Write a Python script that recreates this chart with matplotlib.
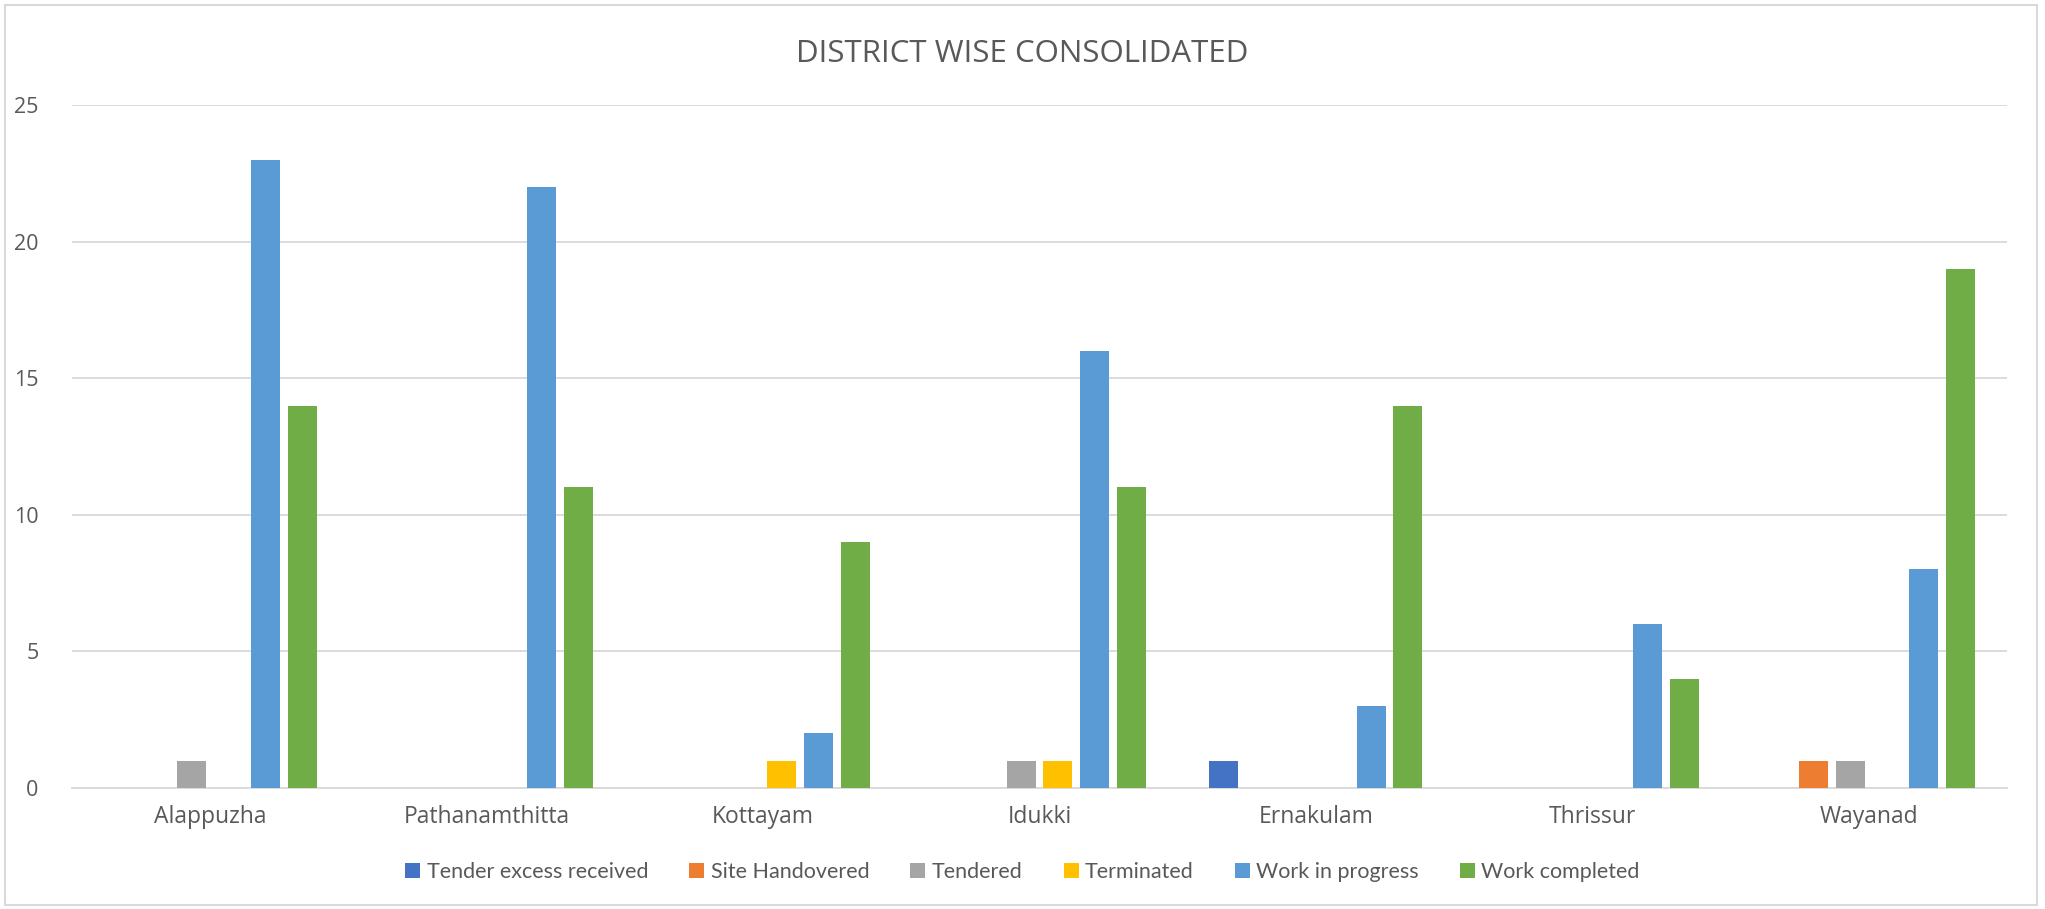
import numpy as np
import matplotlib
matplotlib.use("Agg")
import matplotlib.pyplot as plt
from matplotlib.patches import Rectangle

districts = ["Alappuzha", "Pathanamthitta", "Kottayam", "Idukki",
             "Ernakulam", "Thrissur", "Wayanad"]
series_names = ["Tender excess received", "Site Handovered", "Tendered",
                "Terminated", "Work in progress", "Work completed"]
tender_excess = [0, 0, 0, 0, 1, 0, 0]
site_handovered = [0, 0, 0, 0, 0, 0, 1]
tendered = [1, 0, 0, 1, 0, 0, 1]
terminated = [0, 0, 1, 1, 0, 0, 0]
work_in_progress = [23, 22, 2, 16, 3, 6, 8]
work_completed = [14, 11, 9, 11, 14, 4, 19]

colors = ["#4472C4", "#ED7D31", "#A5A5A5", "#FFC000", "#5B9BD5", "#70AD47"]
all_series = [tender_excess, site_handovered, tendered, terminated,
              work_in_progress, work_completed]

plt.rcParams["font.family"] = ["Open Sans", "DejaVu Sans"]
text_col = "#595959"
grid_col = "#D9D9D9"

fig = plt.figure(figsize=(20.45, 9.09), dpi=100)
ax = fig.add_axes([72 / 2045, 1 - 788 / 909, (2007 - 72) / 2045, (788 - 105) / 909])

# Excel-style clustered columns: gap width 219%, overlap -27%
w = 1 / (6 + 5 * 0.27 + 2.19)
step = w * 1.27
x = np.arange(len(districts))
for i, (vals, name, c) in enumerate(zip(all_series, series_names, colors)):
    ax.bar(x + (i - 2.5) * step, vals, width=w, color=c, label=name, zorder=3)

ax.set_xlim(-0.5, len(districts) - 0.5)
ax.set_ylim(0, 25)
ax.set_yticks(range(0, 26, 5))
ax.set_xticks(x)
ax.set_xticklabels(districts)
ax.grid(axis="y", color=grid_col, linewidth=1.3, zorder=0)
for s in ["top", "right", "left"]:
    ax.spines[s].set_visible(False)
ax.spines["bottom"].set_color(grid_col)
ax.spines["bottom"].set_linewidth(1.3)
ax.tick_params(axis="both", length=0, colors=text_col)
ax.tick_params(axis="y", pad=24, labelsize=15.5)
ax.tick_params(axis="x", pad=12, labelsize=16.5)

fig.text(0.5, 1 - 54 / 909, "DISTRICT WISE CONSOLIDATED", ha="center", va="center",
         fontsize=22.5, color=text_col)

leg = fig.legend(loc="center", bbox_to_anchor=(0.5, 1 - 872 / 909), ncol=6,
                 frameon=False, handlelength=0.7, handleheight=0.7,
                 handletextpad=0.3, columnspacing=1.9,
                 prop={"family": ["Lato", "DejaVu Sans"], "size": 15.5})
for t in leg.get_texts():
    t.set_color(text_col)

fig.patches.append(Rectangle((5 / 2045, 4 / 909), 2032 / 2045, 900 / 909,
                             transform=fig.transFigure, fill=False,
                             edgecolor=grid_col, linewidth=1.5))

fig.savefig("out.png", dpi=100)
